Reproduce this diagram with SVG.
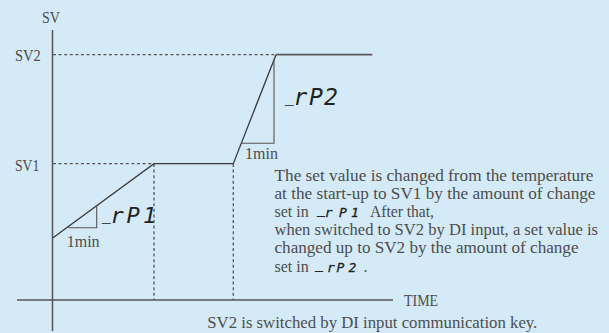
<svg xmlns="http://www.w3.org/2000/svg" width="609" height="333" viewBox="0 0 609 333">
<style>
.t{font-family:"Liberation Serif","Times New Roman",serif;font-size:16px;fill:#4d4d4d}
.seg{font-family:"DejaVu Sans Mono",monospace;font-style:italic;fill:#222}
.segs{stroke:#222;stroke-width:0.3}
.ax{stroke:#555;stroke-width:1.5;fill:none}
.dash{stroke:#555;stroke-width:1.3;stroke-dasharray:3 2.6;fill:none}
.sol{stroke:#3a3a3a;stroke-width:1.3;fill:none}
.tri{stroke:#555;stroke-width:1.1;fill:none}
</style>
<rect width="609" height="333" fill="#d4eaf7"/>
<g id="axes">
<line class="ax" x1="52.5" y1="30" x2="52.5" y2="331"/>
<line class="ax" x1="17" y1="300" x2="393" y2="300"/>
<text class="t" x="51" y="23" text-anchor="middle" textLength="18" lengthAdjust="spacingAndGlyphs">SV</text>
<text class="t" x="15" y="60.5" textLength="25.7" lengthAdjust="spacingAndGlyphs">SV2</text>
<text class="t" x="15" y="171" textLength="24.3" lengthAdjust="spacingAndGlyphs">SV1</text>
<text class="t" x="404" y="305.5" textLength="34" lengthAdjust="spacingAndGlyphs">TIME</text>
</g>
<g id="connectors">
<line class="dash" x1="53" y1="54.7" x2="276" y2="54.7"/>
<line class="dash" x1="53" y1="163.7" x2="154" y2="163.7"/>
<line class="dash" x1="154" y1="164" x2="154" y2="300"/>
<line class="dash" x1="233.3" y1="164" x2="233.3" y2="300"/>
<polyline class="sol" points="53,237.7 154,163.7 233.3,163.7 276,54.7"/>
<line x1="276" y1="54.7" x2="372.3" y2="54.7" stroke="#5a5a5a" stroke-width="1.8"/>
</g>
<g id="ramp1">
<polyline class="tri" points="96.7,205.8 96.7,227.7 68.3,227.7"/>
<text class="t" x="66.7" y="247.3">1min</text>
<text class="seg" font-size="22"><tspan x="102" y="219.5" font-size="14" class="segs">_</tspan><tspan x="110.5 126.5 143" y="222.5">rP1</tspan></text>
</g>
<g id="ramp2">
<polyline class="tri" points="274,59.8 274,143.3 241.7,143.3"/>
<text class="t" x="245" y="159.3">1min</text>
<text class="seg" font-size="23"><tspan x="285" y="102.2" font-size="14" class="segs">_</tspan><tspan x="293.5 309 324" y="105">rP2</tspan></text>
</g>
<g id="note">
<text class="t" x="274.5" y="180.5" textLength="319" lengthAdjust="spacingAndGlyphs">The set value is changed from the temperature</text>
<text class="t" x="274.5" y="198.7" textLength="321" lengthAdjust="spacingAndGlyphs">at the start-up to SV1 by the amount of change</text>
<text class="t" x="274.5" y="216.9">set in</text>
<text class="seg segs" font-size="13"><tspan x="317" y="214">_</tspan><tspan x="324.7 339 351" y="216.9">rP1</tspan></text>
<text class="t" x="370" y="216.9" textLength="64" lengthAdjust="spacingAndGlyphs">After that,</text>
<text class="t" x="274.5" y="235.1" textLength="323.5" lengthAdjust="spacingAndGlyphs">when switched to SV2 by DI input, a set value is</text>
<text class="t" x="274.5" y="253.3" textLength="304" lengthAdjust="spacingAndGlyphs">changed up to SV2 by the amount of change</text>
<text class="t" x="274.5" y="271.5">set in</text>
<text class="seg segs" font-size="13"><tspan x="315" y="268.6">_</tspan><tspan x="327 336.5 348.5" y="271.5">rP2</tspan></text>
<text class="t" x="363.5" y="271.5">.</text>
<text class="t" x="207.3" y="327.5" textLength="330" lengthAdjust="spacingAndGlyphs">SV2 is switched by DI input communication key.</text>
</g>
</svg>
